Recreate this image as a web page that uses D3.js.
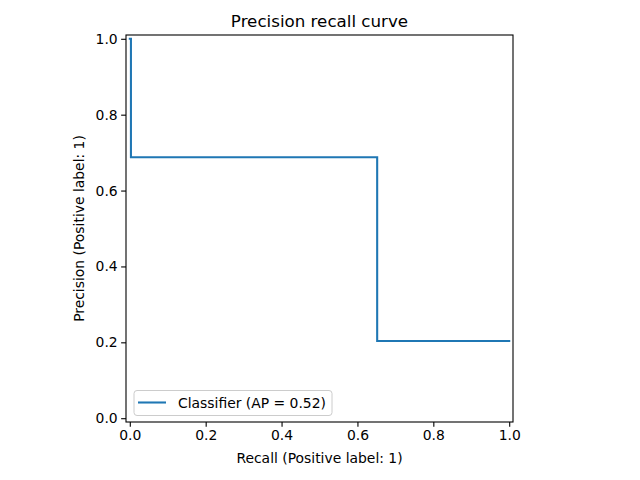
<!DOCTYPE html>
<html><head><meta charset="utf-8">
<script src="https://cdn.jsdelivr.net/npm/d3@7"></script>
<style>body{margin:0;background:#fff}svg{display:block}text{font-family:"DejaVu Sans",sans-serif;fill:#000}</style>
</head><body>
<script>
const recall = [1.0, 0.652, 0.652, 0.003, 0.003, 0.0];
const precision = [0.2035, 0.2035, 0.688, 0.688, 1.0, 1.0];
const xTicks = [0, 0.2, 0.4, 0.6, 0.8, 1.0];
const yTicks = [0, 0.2, 0.4, 0.6, 0.8, 1.0];
const title = "Precision recall curve";
const xLabel = "Recall (Positive label: 1)";
const yLabel = "Precision (Positive label: 1)";
const legendLabel = "Classifier (AP = 0.52)";

const W = 640, H = 480;
const L = 126, R = 513, T = 35, B = 422;
const svg = d3.select("body").append("svg").attr("width", W).attr("height", H);
const x = d3.scaleLinear().domain([-0.01, 1.01]).range([L, R]);
const y = d3.scaleLinear().domain([-0.01, 1.01]).range([B, T]);

const line = d3.line().x((d, i) => x(recall[i])).y((d, i) => y(precision[i]));
svg.append("path").datum(recall).attr("d", line).attr("fill", "none")
  .attr("stroke", "#1f77b4").attr("stroke-width", 2.08).attr("stroke-linejoin", "miter").attr("stroke-linecap", "square");

const xa = svg.append("g").attr("transform", `translate(0,${B})`)
  .call(d3.axisBottom(x).tickValues(xTicks).tickFormat(d3.format(".1f")).tickSize(4.86).tickPadding(3.5));
const ya = svg.append("g").attr("transform", `translate(${L},0)`)
  .call(d3.axisLeft(y).tickValues(yTicks).tickFormat(d3.format(".1f")).tickSize(4.86).tickPadding(3.5));
[xa, ya].forEach(g => {
  g.select(".domain").remove();
  g.selectAll("line").attr("stroke", "#000").attr("stroke-width", 1.1);
  g.selectAll("text").attr("font-size", 13.9).attr("font-family", "DejaVu Sans").attr("fill", "#000");
});
svg.append("rect").attr("x", L).attr("y", T).attr("width", R - L).attr("height", B - T)
  .attr("fill", "none").attr("stroke", "#000").attr("stroke-width", 1.1);

svg.append("text").attr("x", (L + R) / 2).attr("y", T - 8).attr("text-anchor", "middle")
  .attr("font-size", 16.7).text(title);
svg.append("text").attr("x", (L + R) / 2).attr("y", 463).attr("text-anchor", "middle")
  .attr("font-size", 13.9).text(xLabel);
svg.append("text").attr("transform", `translate(84,${(T + B) / 2}) rotate(-90)`).attr("text-anchor", "middle")
  .attr("font-size", 13.9).text(yLabel);

const lg = svg.append("g");
lg.append("rect").attr("x", 134).attr("y", 390.5).attr("width", 198).attr("height", 25).attr("rx", 3)
  .attr("fill", "#fff").attr("fill-opacity", 0.8).attr("stroke", "#ccc").attr("stroke-width", 1);
lg.append("line").attr("x1", 138).attr("x2", 166).attr("y1", 402.5).attr("y2", 402.5)
  .attr("stroke", "#1f77b4").attr("stroke-width", 2.08);
lg.append("text").attr("x", 178).attr("y", 407.5).attr("font-size", 13.9).text(legendLabel);
</script>
</body></html>
